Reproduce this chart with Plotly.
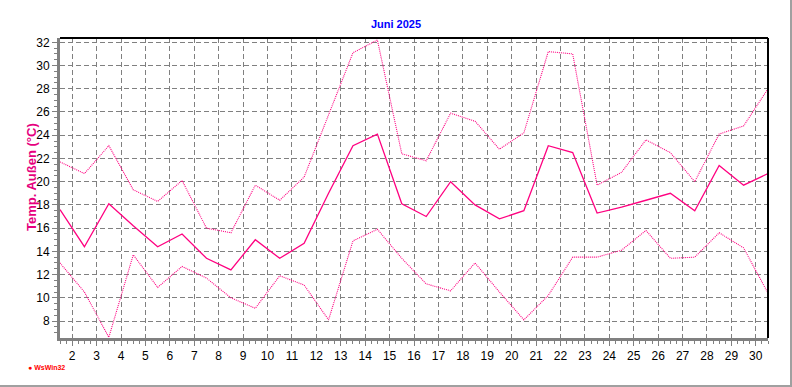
import plotly.graph_objects as go

days = list(range(1, 31))
temp_mean = [17.6, 14.4, 18.1, 16.2, 14.4, 15.5, 13.4, 12.4, 15.0, 13.4,
             14.7, 19.0, 23.1, 24.1, 18.1, 17.0, 20.0, 18.0, 16.8, 17.5,
             23.1, 22.5, 17.3, 17.8, 18.4, 19.0, 17.5, 21.4, 19.7, 20.7]
temp_max = [21.7, 20.7, 23.1, 19.3, 18.3, 20.1, 16.0, 15.6, 19.7, 18.4,
            20.4, 25.8, 31.1, 32.2, 22.4, 21.8, 25.9, 25.2, 22.8, 24.2,
            31.2, 31.0, 19.7, 20.8, 23.6, 22.5, 20.0, 24.1, 24.8, 28.0]
temp_min = [13.0, 10.5, 6.6, 13.7, 10.9, 12.7, 11.7, 10.0, 9.1, 11.9,
            11.1, 8.1, 14.9, 15.9, 13.4, 11.2, 10.6, 13.0, 10.5, 8.1,
            10.2, 13.5, 13.5, 14.1, 15.8, 13.4, 13.5, 15.6, 14.3, 10.4]
x_ticks = list(range(2, 31))
y_ticks = list(range(8, 33, 2))

xs = [d + 0.5 for d in days]
LINE = "#ff0080"

fig = go.Figure()
fig.add_trace(go.Scatter(x=xs, y=temp_max, mode="lines",
                         line=dict(color=LINE, width=1.1, dash="1px,1px")))
fig.add_trace(go.Scatter(x=xs, y=temp_min, mode="lines",
                         line=dict(color=LINE, width=1.1, dash="1px,1px")))
fig.add_trace(go.Scatter(x=xs, y=temp_mean, mode="lines",
                         line=dict(color=LINE, width=1.3)))

fig.update_layout(
    width=792, height=387,
    margin=dict(l=60, r=24, t=38, b=49),
    paper_bgcolor="white", plot_bgcolor="white",
    showlegend=False,
    font=dict(family="Liberation Sans, Arial, sans-serif", size=12, color="black"),
    title=dict(text="<b>Juni 2025</b>", x=0.5, xref="container", xanchor="center",
               y=1 - 24 / 387, yanchor="middle",
               font=dict(size=11, color="#0000ff")),
)
fig.update_xaxes(
    range=[1.5, 30.5], tickmode="array", tickvals=x_ticks,
    ticktext=[str(t) for t in x_ticks],
    showgrid=True, gridcolor="#808080", griddash="5px,3px", gridwidth=1,
    showline=True, linecolor="#808080", linewidth=3,
    ticks="outside", ticklen=5, tickcolor="#808080", tickwidth=1,
    minor=dict(dtick=0.25, tick0=0, ticks="outside", ticklen=3,
               tickcolor="#808080", showgrid=False),
    zeroline=False, fixedrange=True,
)
fig.update_yaxes(
    range=[6.54, 32.37], tickmode="array", tickvals=y_ticks,
    ticktext=[str(t) for t in y_ticks],
    showgrid=True, gridcolor="#808080", griddash="5px,3px", gridwidth=1,
    showline=True, linecolor="#808080", linewidth=3,
    ticks="outside", ticklen=5, tickcolor="#808080", tickwidth=1,
    minor=dict(dtick=0.5, tick0=0, ticks="outside", ticklen=3,
               tickcolor="#808080", showgrid=False),
    zeroline=False, fixedrange=True,
)

# top and right frame (black)
fig.add_shape(type="line", xref="paper", yref="paper", x0=0, x1=1, y0=1, y1=1,
              line=dict(color="black", width=2))
fig.add_shape(type="line", xref="paper", yref="paper", x0=1, x1=1, y0=0, y1=1,
              line=dict(color="black", width=2))
# outer window border (right and bottom)
fig.add_shape(type="line", xref="paper", yref="paper",
              x0=(791 - 60) / 708, x1=(791 - 60) / 708, y0=(338 - 387) / 300, y1=338 / 300,
              line=dict(color="#a0a0a0", width=2))
fig.add_shape(type="line", xref="paper", yref="paper",
              x0=-60 / 708, x1=(792 - 60) / 708, y0=(338 - 386) / 300, y1=(338 - 386) / 300,
              line=dict(color="#a0a0a0", width=2))

fig.add_annotation(text="<b>Temp. Außen (°C)</b>", textangle=-90,
                   xref="paper", yref="paper", x=(31 - 60) / 708, y=(338 - 177) / 300,
                   xanchor="center", yanchor="middle", showarrow=False,
                   font=dict(size=13, color="#e6007e"))
fig.add_annotation(text="<b>● WsWin32</b>",
                   xref="paper", yref="paper", x=(26 - 60) / 708, y=(338 - 367) / 300,
                   xanchor="left", yanchor="middle", showarrow=False,
                   font=dict(size=7, color="#ff0000"))

fig.write_html("out.html", config={"displayModeBar": False},
               post_script="document.body.style.margin='0';")
